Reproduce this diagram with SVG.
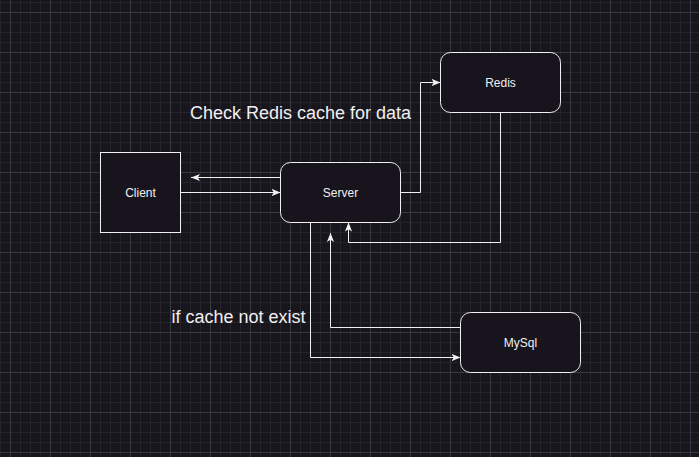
<svg xmlns="http://www.w3.org/2000/svg" width="699" height="457" viewBox="0 0 699 457">
  <style>
    .node { fill: #18141d; stroke: #f0f0f0; stroke-width: 1; }
    .edge { fill: none; stroke: #f0f0f0; stroke-width: 1; }
    .lbl { font-family: "Liberation Sans", Arial, Helvetica, sans-serif; font-size: 12px; fill: #f0f0f0; text-anchor: middle; }
    .big { font-family: "Liberation Sans", Arial, Helvetica, sans-serif; font-size: 18px; fill: #f0f0f0; }
  </style>
  <defs>
    <pattern id="minor" width="10" height="10" patternUnits="userSpaceOnUse" x="0" y="2">
      <path d="M0.5,0 V10 M0,0.5 H10" stroke="#26232c" stroke-width="1" fill="none"/>
    </pattern>
    <pattern id="major" width="40" height="40" patternUnits="userSpaceOnUse" x="10" y="12">
      <path d="M0.5,0 V40 M0,0.5 H40" stroke="#3b3940" stroke-width="1" fill="none"/>
    </pattern>
    <marker id="arr" viewBox="0 0 10 10" refX="10" refY="5" markerWidth="9" markerHeight="9" markerUnits="userSpaceOnUse" orient="auto">
      <path d="M0,1 L10,5 L0,9 L2.5,5 Z" fill="#f0f0f0" stroke="none"/>
    </marker>
  </defs>
  <rect x="0" y="0" width="699" height="457" fill="#18161d"/>
  <rect x="0" y="0" width="699" height="457" fill="url(#minor)"/>
  <rect x="0" y="0" width="699" height="457" fill="url(#major)"/>

  <g id="connectors">
    <path class="edge" d="M280.5,177.5 L191,177.5" marker-end="url(#arr)"/>
    <path class="edge" d="M180.5,192.5 L280.5,192.5" marker-end="url(#arr)"/>
    <path class="edge" d="M400.5,192.5 L420.5,192.5 L420.5,82.5 L440.5,82.5" marker-end="url(#arr)"/>
    <path class="edge" d="M500.5,112.5 L500.5,242.5 L348.5,242.5 L348.5,222.5" marker-end="url(#arr)"/>
    <path class="edge" d="M310.5,222.5 L310.5,357.5 L460.5,357.5" marker-end="url(#arr)"/>
    <path class="edge" d="M460.5,327.5 L330.5,327.5 L330.5,233" marker-end="url(#arr)"/>
  </g>

  <g id="client">
    <rect class="node" x="100.5" y="152.5" width="80" height="80"/>
    <text class="lbl" x="140.5" y="196.5">Client</text>
  </g>
  <g id="server">
    <rect class="node" x="280.5" y="162.5" width="120" height="60" rx="10" ry="10"/>
    <text class="lbl" x="340.5" y="196.5">Server</text>
  </g>
  <g id="redis">
    <rect class="node" x="440.5" y="52.5" width="120" height="60" rx="10" ry="10"/>
    <text class="lbl" x="500.5" y="86.5">Redis</text>
  </g>
  <g id="mysql">
    <rect class="node" x="460.5" y="312.5" width="120" height="60" rx="10" ry="10"/>
    <text class="lbl" x="520.5" y="346.5">MySql</text>
  </g>

  <g id="labels">
    <text class="big" x="190" y="118.5">Check Redis cache for data</text>
    <text class="big" x="171.5" y="323">if cache not exist</text>
  </g>
</svg>
